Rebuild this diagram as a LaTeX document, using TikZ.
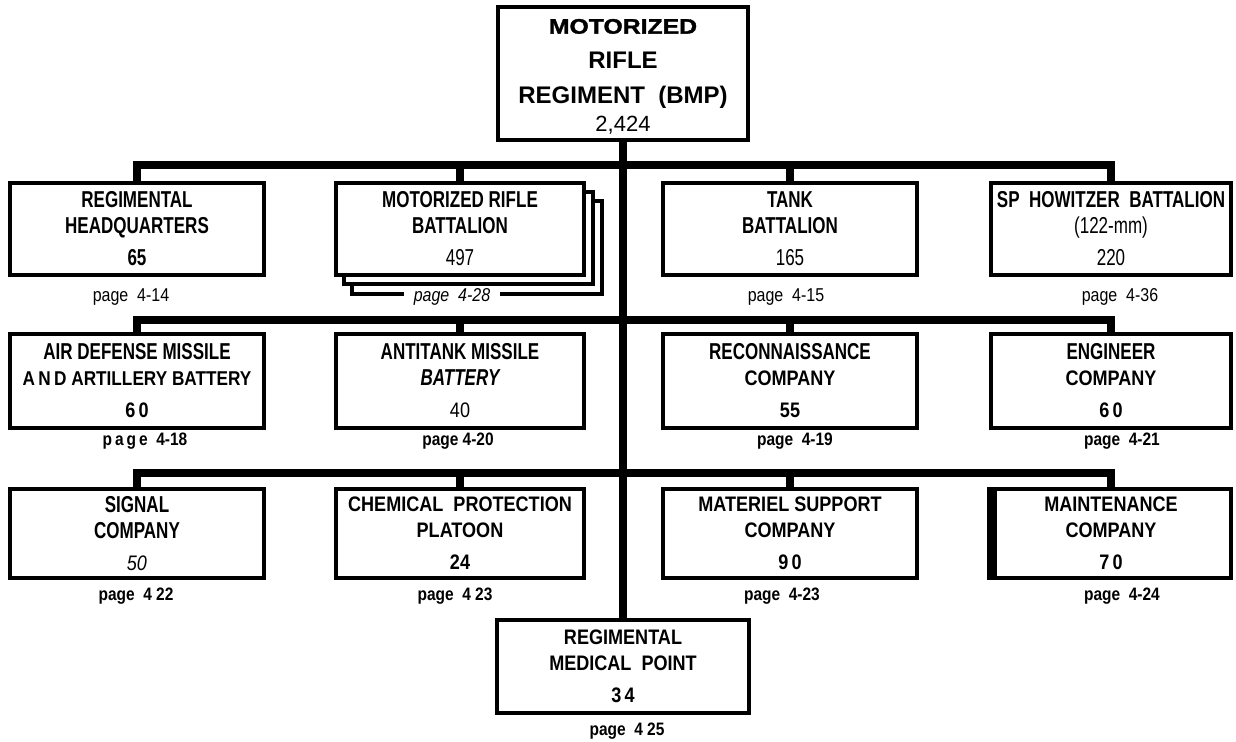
\documentclass[tikz,border=0pt]{standalone}
\usepackage{fontspec}
\setmainfont{Liberation Sans}
\newfontfamily\gothfont{Liberation Sans}[FakeStretch=0.74]
\newfontfamily\helvfont{Liberation Sans}[FakeStretch=0.86]
\newfontfamily\newsfont{Liberation Sans}[FakeStretch=0.86]
\newfontfamily\widefont{Liberation Sans}[FakeStretch=1.18,FakeBold=1.6]
\newcommand\gp{\hspace{1.6pt}}
\newcommand\gtb[1]{{\gothfont\bfseries\fontsize{11.5}{13}\selectfont #1}}
\newcommand\gtr[1]{{\gothfont\fontsize{11.5}{13}\selectfont #1}}
\newcommand\htb[1]{{\helvfont\bfseries\fontsize{10.5}{13}\selectfont #1}}
\newcommand\htr[1]{{\helvfont\fontsize{10.5}{13}\selectfont #1}}
\begin{document}
\begin{tikzpicture}[x=0.5pt,y=-0.5pt,
  box/.style={draw,line width=1.7pt,fill=white,inner sep=0pt,align=center,
    font=\fontsize{11}{13}\selectfont},
  r1/.style={minimum height=46pt},
  r2/.style={minimum height=47pt},
  r3/.style={minimum height=44.5pt},
  c1/.style={minimum width=127pt},
  c2/.style={minimum width=124pt},
  c3/.style={minimum width=127pt},
  c4/.style={minimum width=120pt},
  bus/.style={line width=4pt},
  shadowbox/.style={draw,line width=1.7pt,fill=white},
  pgb/.style={anchor=base,inner sep=0pt,font=\helvfont\bfseries\fontsize{9}{10}\selectfont},
  pgl/.style={anchor=base,inner sep=0pt,font=\newsfont\fontsize{9.3}{10}\selectfont},
]
\fill[white] (0,0) rectangle (1236,742);

% top and bottom boxes
\node[box,minimum width=125pt,minimum height=66.5pt] (top) at (623,73.5) {};
\node[align=center,inner sep=0pt,font=\bfseries\fontsize{12}{17.5}\selectfont] (toptxt) at (623,76.5)
  {{\widefont\bfseries\fontsize{10.5}{17.5}\selectfont MOTORIZED}\\RIFLE\\REGIMENT\ \ (BMP)\\[-3.75pt]{\mdseries\fontsize{11}{17.5}\selectfont 2,424}};
\node[box,minimum width=126pt,minimum height=46.5pt] (med) at (623,666.5)
  {\htb{REGIMENTAL}\\\htb{MEDICAL\ \ POINT}\\[3pt]\htb{3\gp4}};
\node[pgb] (medp) at (627,735) {page\ \ 4\ 25};

% trunk
\draw[bus] (top.south) -- (med.north);
\coordinate (b1) at (623,165);
\coordinate (b2) at (623,320);
\coordinate (b3) at (623,473);

% ---- row 1
\node[box,r1,c1] (hq) at (137,229) {\gtb{REGIMENTAL}\\\gtb{HEADQUARTERS}\\[3pt]\gtb{65}};
\draw[shadowbox] (352,201) rectangle (602,294);
\draw[shadowbox] (344,192) rectangle (593,284);
\node[box,r1,c2] (mrb) at (460,229) {\gtb{MOTORIZED\ RIFLE}\\\gtb{BATTALION}\\[3pt]\gtr{497}};
\node[box,r1,c3] (tank) at (790,229) {\gtb{TANK}\\\gtb{BATTALION}\\[3pt]\gtr{165}};
\node[box,r1,c4] (sp) at (1111,229) {\gtb{SP\ \ HOWITZER\ \ BATTALION}\\\gtr{(122-mm)}\\[3pt]\gtr{220}};
\draw[bus] (hq.north) |- (b1) -| (sp.north);
\draw[bus] (mrb.north) -- (mrb.north |- b1);
\draw[bus] (tank.north) -- (tank.north |- b1);
\node[pgl] (hqp) at (131,302) {page\ \ 4-14};
\node[pgl,fill=white,inner xsep=5pt,font=\newsfont\itshape\fontsize{9.3}{10}\selectfont] (mrbp) at (452,302) {page\ \ 4-28};
\node[pgl] (tankp) at (786,302) {page\ \ 4-15};
\node[pgl] (spp) at (1120,302) {page\ \ 4-36};

% ---- row 2
\node[box,r2,c1] (ad) at (137,381) {\gtb{AIR DEFENSE MISSILE}\\{\helvfont\bfseries\fontsize{10}{13}\selectfont A\,N\,D ARTILLERY BATTERY}\\[3pt]\htb{6\gp0}};
\node[box,r2,c2] (at) at (460,381) {\gtb{ANTITANK MISSILE}\\{\gothfont\bfseries\itshape\fontsize{11.5}{13}\selectfont BATTERY}\\[3pt]\htr{40}};
\node[box,r2,c3] (rc) at (790,381) {\gtb{RECONNAISSANCE}\\\htb{COMPANY}\\[3pt]\htb{55}};
\node[box,r2,c4] (en) at (1111,381) {\gtb{ENGINEER}\\\htb{COMPANY}\\[3pt]\htb{6\gp0}};
\draw[bus] (ad.north) |- (b2) -| (en.north);
\draw[bus] (at.north) -- (at.north |- b2);
\draw[bus] (rc.north) -- (rc.north |- b2);
\node[pgb] (adp) at (145,446) {p\,a\,g\,e\ \ 4-18};
\node[pgb] (atp) at (458,446) {page 4-20};
\node[pgb] (rcp) at (795,446) {page\ \ 4-19};
\node[pgb] (enp) at (1122,446) {page\ \ 4-21};

% ---- row 3
\node[box,r3,c1] (sig) at (137,533.5) {\gtb{SIGNAL}\\\gtb{COMPANY}\\[3pt]{\helvfont\itshape\fontsize{10.5}{13}\selectfont 50}};
\node[box,r3,c2] (chem) at (460,533.5) {\htb{CHEMICAL\ \ PROTECTION}\\\htb{PLATOON}\\[3pt]\htb{24}};
\node[box,r3,c3] (mat) at (790,533.5) {\htb{MATERIEL\ SUPPORT}\\\htb{COMPANY}\\[3pt]\htb{9\gp0}};
\node[box,r3,c4] (mnt) at (1111,533.5) {\htb{MAINTENANCE}\\\htb{COMPANY}\\[3pt]\htb{7\gp0}};
\draw[line width=5pt] ([xshift=1.3pt]mnt.north west) -- ([xshift=1.3pt]mnt.south west);
\draw[bus] (sig.north) |- (b3) -| (mnt.north);
\draw[bus] (chem.north) -- (chem.north |- b3);
\draw[bus] (mat.north) -- (mat.north |- b3);
\node[pgb] (sigp) at (136,600) {page\ \ 4\ 22};
\node[pgb] (chemp) at (455,600) {page\ \ 4\ 23};
\node[pgb] (matp) at (782,600) {page\ \ 4-23};
\node[pgb] (mntp) at (1122,600) {page\ \ 4-24};
\end{tikzpicture}
\end{document}
